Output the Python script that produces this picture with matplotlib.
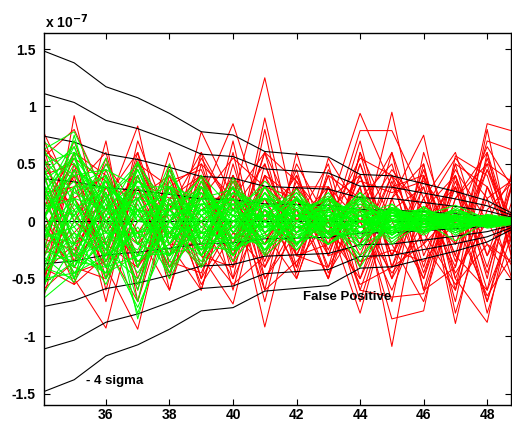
import numpy as np
import matplotlib
matplotlib.use('Agg')
import matplotlib.pyplot as plt

plt.rcParams['font.family'] = ['Liberation Sans', 'DejaVu Sans']
plt.rcParams['font.weight'] = 'bold'

# x positions (samples) and values in units of 1e-7
x_vals = list(range(34, 50))

# sigma of the distribution at every x
sigma = [0.372, 0.345, 0.293, 0.269, 0.235, 0.195, 0.188, 0.152,
         0.146, 0.140, 0.102, 0.099, 0.082, 0.065, 0.045, 0.010]
sigma_levels = [-4, -3, -2, -1, 0, 1, 2, 3, 4]

red_lines = [
    [0.80, 0.20, 0.40, -0.10, 0.30, 0.00, 0.20, 1.25, 0.00, 0.30, -0.20, 0.40, 0.10, -0.20, 0.50, 0.30],
    [-0.65, 0.92, -0.20, 0.50, 0.10, 0.40, -0.10, 0.30, -0.20, 0.10, 0.94, 0.30, -0.10, 0.40, -0.30, 0.20],
    [0.30, -0.50, -0.93, 0.20, -0.30, 0.78, 0.20, -0.20, 0.30, -0.10, 0.79, 0.79, 0.20, -0.40, 0.85, 0.77],
    [-0.20, 0.40, 0.10, 0.83, -0.40, 0.20, 0.85, 0.00, 0.40, -0.30, -0.20, 0.95, -0.30, 0.30, -0.60, 0.10],
    [0.50, 0.10, -0.40, -0.94, 0.20, -0.30, -0.72, 0.40, -0.10, 0.20, -0.60, -0.66, -0.63, 0.20, 0.60, -0.30],
    [-0.40, -0.55, 0.30, -0.30, 0.60, -0.20, 0.30, -0.92, 0.20, -0.50, 0.30, -1.09, 0.40, -0.89, 0.30, -0.40],
    [0.10, 0.60, -0.60, 0.40, -0.20, -0.60, 0.40, -0.30, 0.50, 0.00, -0.80, 0.20, 0.75, -0.50, -0.88, 0.40],
    [0.60, -0.20, 0.55, -0.50, 0.30, 0.50, -0.30, 0.60, -0.40, 0.55, 0.10, -0.85, -0.78, 0.57, 0.40, -0.50],
    [-0.70, 0.30, -0.30, 0.60, -0.60, 0.30, -0.40, 0.20, 0.10, -0.50, 0.60, -0.40, 0.40, -0.30, 0.70, 0.60],
    [0.20, -0.30, 0.70, -0.70, 0.40, -0.40, 0.60, -0.60, 0.60, -0.30, 0.40, -0.50, 0.50, -0.60, 0.30, -0.20],
    [0.00, 0.70, -0.10, 0.30, -0.50, 0.60, -0.50, 0.80, -0.50, 0.30, -0.40, 0.60, -0.60, 0.40, -0.40, 0.50],
    [-0.30, -0.10, 0.20, -0.60, 0.50, -0.50, 0.50, -0.40, 0.30, -0.40, 0.50, -0.30, 0.30, -0.70, 0.60, -0.60],
    [0.40, 0.50, -0.50, 0.70, 0.00, 0.40, -0.60, 0.50, -0.30, 0.40, -0.60, 0.20, -0.50, 0.30, -0.70, 0.20],
    [-0.50, 0.00, 0.50, 0.10, -0.40, -0.10, 0.40, -0.70, 0.40, -0.20, 0.30, -0.70, 0.60, -0.20, 0.45, -0.10],
    [0.70, -0.40, 0.10, -0.20, 0.10, 0.60, 0.10, 0.50, -0.20, 0.00, 0.20, 0.50, -0.40, 0.50, -0.50, 0.70],
    [-0.10, 0.40, -0.70, 0.50, -0.10, -0.40, 0.70, -0.50, 0.00, 0.50, -0.50, 0.10, 0.30, -0.50, 0.20, -0.70],
    [0.30, -0.30, 0.30, 0.20, 0.40, -0.30, -0.40, 0.90, -0.30, -0.20, 0.70, -0.40, -0.20, 0.10, -0.70, 0.30],
    [-0.60, 0.20, -0.20, -0.40, 0.00, 0.20, 0.20, -0.20, 0.30, 0.30, -0.30, 0.40, -0.60, -0.40, 0.55, -0.30],
    [0.55, 0.80, 0.20, 0.60, -0.20, 0.10, 0.30, -0.50, -0.10, 0.20, 0.40, -0.30, 0.20, 0.60, -0.30, 0.50],
    [-0.20, -0.40, -0.50, 0.00, 0.30, -0.50, 0.00, 0.20, -0.30, -0.40, 0.10, 0.60, -0.20, -0.60, 0.80, -0.50],
    [0.25, 0.30, 0.60, -0.40, 0.10, 0.30, -0.20, 0.40, 0.20, -0.10, -0.50, 0.30, 0.40, -0.30, -0.60, 0.60],
    [-0.45, -0.20, 0.10, 0.40, -0.30, 0.00, -0.50, 0.10, -0.40, 0.40, 0.20, -0.50, 0.00, 0.30, -0.20, -0.60],
    [0.75, 0.00, -0.20, -0.70, 0.20, 0.40, -0.10, -0.40, 0.10, -0.50, 0.60, 0.00, -0.50, 0.50, 0.30, -0.20],
    [-0.30, 0.60, 0.40, -0.10, -0.60, 0.50, 0.20, 0.60, 0.00, 0.20, -0.70, 0.20, 0.50, -0.80, 0.10, 0.40],
    [0.10, -0.55, -0.30, 0.50, 0.30, -0.60, 0.40, -0.10, -0.50, 0.30, 0.00, -0.60, 0.10, 0.40, -0.80, 0.10],
    [-0.55, 0.50, 0.00, 0.30, -0.30, 0.40, -0.30, 0.30, 0.20, -0.30, 0.50, -0.20, -0.70, 0.20, 0.50, -0.40],
    [0.45, -0.35, 0.45, -0.20, 0.45, -0.30, 0.35, -0.35, 0.35, -0.25, 0.40, -0.30, 0.45, -0.35, 0.45, -0.30],
    [-0.35, 0.45, -0.40, 0.30, -0.45, 0.35, -0.35, 0.40, -0.30, 0.30, -0.40, 0.35, -0.45, 0.35, -0.45, 0.35],
    [0.15, 0.20, -0.25, 0.55, -0.15, 0.55, 0.10, 0.20, -0.45, 0.45, 0.00, 0.45, 0.10, 0.55, 0.20, 0.40],
    [-0.15, -0.25, 0.25, -0.55, 0.15, -0.55, -0.10, -0.20, 0.45, -0.45, 0.00, -0.45, -0.10, -0.55, -0.20, -0.40],
    [0.65, 0.35, 0.00, 0.35, 0.20, 0.20, 0.55, 0.30, 0.05, 0.10, 0.35, 0.25, 0.35, 0.00, 0.65, 0.20],
    [-0.60, -0.35, 0.00, -0.35, -0.20, -0.20, -0.55, -0.30, -0.05, -0.10, -0.35, -0.25, -0.35, 0.00, -0.65, -0.20],
    [0.00, 0.55, 0.35, -0.40, 0.35, 0.45, -0.20, 0.60, 0.35, 0.00, 0.55, 0.40, -0.20, 0.45, 0.00, -0.50],
    [0.00, -0.45, -0.35, 0.40, -0.35, -0.45, 0.20, -0.60, -0.35, 0.00, -0.55, -0.40, 0.20, -0.45, 0.00, 0.50],
]

green_lines = [
    [0.62, 0.78, 0.20, 0.45, -0.10, 0.30, 0.05, 0.35, 0.10, 0.20, 0.05, 0.12, 0.02, 0.10, 0.03, 0.02],
    [-0.60, 0.10, -0.50, 0.20, -0.40, 0.15, -0.30, 0.10, -0.25, 0.05, -0.20, 0.05, -0.10, 0.02, -0.05, -0.01],
    [0.30, -0.50, 0.40, -0.85, 0.20, -0.30, 0.25, -0.20, 0.15, -0.10, 0.20, -0.05, 0.10, -0.08, 0.04, 0.00],
    [-0.20, 0.60, -0.30, 0.50, -0.20, 0.35, -0.15, 0.30, -0.10, 0.20, -0.15, 0.10, -0.05, 0.12, -0.03, 0.01],
    [0.45, 0.05, 0.55, -0.20, 0.45, -0.10, 0.38, -0.05, 0.25, -0.05, 0.22, 0.00, 0.12, -0.02, 0.06, 0.02],
    [-0.45, -0.10, -0.55, 0.10, -0.50, 0.05, -0.35, 0.00, -0.20, 0.05, -0.40, 0.02, -0.12, 0.05, -0.06, -0.02],
    [0.10, 0.35, -0.20, 0.30, 0.05, -0.25, 0.20, -0.28, 0.10, -0.15, 0.08, -0.18, 0.05, -0.12, 0.02, -0.01],
    [-0.05, -0.40, 0.25, -0.60, 0.30, 0.10, -0.20, 0.25, -0.15, 0.10, -0.10, 0.08, -0.08, 0.05, -0.04, 0.01],
    [0.55, 0.25, 0.10, 0.35, 0.15, 0.25, -0.05, 0.15, 0.05, 0.22, 0.00, 0.10, 0.05, 0.14, 0.02, 0.03],
    [-0.30, -0.53, -0.05, -0.45, 0.00, -0.35, 0.05, -0.20, -0.02, -0.15, 0.05, -0.20, 0.00, -0.17, 0.00, -0.03],
    [0.20, 0.70, 0.05, 0.52, 0.00, 0.40, 0.10, 0.20, 0.00, 0.15, 0.05, 0.08, 0.00, 0.06, 0.00, 0.01],
    [-0.65, -0.20, -0.45, -0.30, -0.10, -0.40, -0.05, -0.25, 0.05, -0.10, 0.00, -0.08, 0.03, -0.05, 0.01, 0.00],
    [0.00, 0.45, -0.35, 0.15, -0.45, 0.25, -0.25, 0.15, -0.20, 0.10, -0.15, 0.12, -0.08, 0.04, -0.04, 0.00],
    [0.35, -0.30, 0.20, -0.40, 0.35, -0.20, 0.30, -0.15, 0.22, -0.12, 0.18, -0.10, 0.13, -0.06, 0.05, 0.01],
    [-0.35, 0.30, -0.25, 0.40, -0.35, 0.20, -0.30, 0.15, -0.22, 0.18, -0.25, 0.15, -0.10, 0.06, -0.05, -0.01],
    [0.50, 0.60, 0.30, 0.10, 0.25, 0.05, 0.20, 0.00, 0.12, 0.02, 0.10, 0.00, 0.05, 0.00, 0.03, 0.00],
    [-0.50, -0.45, -0.30, -0.10, -0.30, -0.05, -0.22, 0.00, -0.12, -0.02, -0.10, 0.00, -0.06, 0.00, -0.03, 0.00],
    [0.15, 0.05, 0.35, 0.05, 0.40, 0.05, 0.25, 0.05, 0.18, 0.00, 0.25, 0.02, 0.10, 0.03, 0.05, 0.01],
    [-0.15, -0.05, -0.40, -0.05, -0.45, 0.00, -0.25, -0.05, -0.15, 0.00, -0.30, -0.02, -0.08, -0.02, -0.05, -0.01],
    [0.40, -0.15, 0.10, 0.25, -0.30, 0.30, 0.00, -0.15, 0.20, 0.00, -0.10, 0.10, 0.00, -0.05, 0.02, 0.00],
    [-0.40, 0.15, -0.10, -0.25, 0.30, -0.30, 0.00, 0.15, -0.20, 0.00, 0.10, -0.10, 0.00, 0.05, -0.02, 0.00],
    [0.25, 0.55, -0.10, 0.45, -0.15, 0.35, -0.10, 0.25, -0.05, 0.20, -0.05, 0.10, -0.03, 0.08, -0.02, 0.01],
    [-0.25, -0.35, 0.15, -0.55, 0.10, -0.30, 0.15, -0.20, 0.05, -0.15, 0.10, -0.12, 0.05, -0.10, 0.02, -0.01],
    [0.05, -0.20, 0.50, 0.00, 0.10, 0.38, -0.10, 0.05, 0.25, -0.10, 0.05, 0.15, -0.05, 0.00, 0.05, 0.00],
    [-0.10, 0.20, -0.50, 0.00, -0.05, -0.38, 0.10, 0.00, -0.25, 0.08, 0.00, -0.15, 0.05, 0.00, -0.05, 0.00],
    [0.60, 0.40, 0.45, 0.30, 0.30, 0.20, 0.28, 0.12, 0.18, 0.10, 0.12, 0.05, 0.08, 0.04, 0.04, 0.02],
    [-0.55, -0.35, -0.40, -0.30, -0.28, -0.22, -0.25, -0.12, -0.18, -0.10, -0.12, -0.06, -0.08, -0.05, -0.03, -0.02],
    [0.15, 0.65, 0.00, -0.80, 0.00, 0.20, -0.15, 0.10, -0.10, 0.15, -0.05, 0.05, 0.00, 0.08, 0.00, 0.00],
    [-0.05, 0.10, 0.30, -0.15, 0.50, -0.20, 0.10, 0.30, 0.00, 0.25, -0.10, 0.10, -0.05, 0.03, 0.00, 0.01],
    [0.30, -0.10, -0.30, 0.10, 0.25, -0.25, 0.35, -0.10, 0.05, -0.05, 0.25, -0.10, 0.08, -0.03, 0.03, 0.00],
    [-0.20, 0.45, 0.25, -0.35, -0.20, 0.30, -0.10, 0.20, 0.15, -0.20, 0.00, 0.08, 0.10, -0.05, 0.00, 0.01],
    [0.45, -0.40, 0.05, 0.20, -0.40, 0.10, 0.15, -0.25, 0.05, 0.12, -0.35, 0.05, 0.05, -0.08, 0.04, -0.01],
    [-0.45, 0.25, 0.40, -0.15, 0.00, -0.15, 0.30, 0.05, -0.15, 0.20, 0.00, -0.12, 0.10, 0.00, -0.03, 0.01],
    [0.10, -0.45, -0.15, 0.35, 0.10, 0.20, -0.25, 0.25, 0.00, -0.10, 0.15, 0.00, -0.10, 0.10, 0.00, 0.00],
    [0.65, 0.15, -0.25, -0.50, 0.15, 0.00, 0.10, -0.10, 0.20, 0.05, 0.00, -0.05, 0.06, 0.02, -0.02, 0.00],
    [-0.62, 0.30, 0.30, 0.05, -0.25, -0.10, -0.15, 0.10, -0.05, -0.20, 0.00, 0.05, -0.05, -0.03, 0.03, 0.00],
    [0.00, 0.50, 0.10, -0.30, 0.30, -0.10, -0.30, 0.05, 0.28, -0.05, 0.00, 0.07, -0.02, 0.05, -0.02, 0.00],
    [0.35, -0.25, -0.45, 0.25, 0.05, 0.15, 0.10, -0.30, -0.05, 0.00, 0.20, -0.05, 0.00, 0.00, 0.02, 0.00],
    [-0.30, 0.75, -0.20, 0.45, -0.20, 0.10, 0.20, 0.00, 0.10, -0.20, -0.05, 0.10, 0.05, -0.06, 0.00, 0.01],
    [0.20, -0.30, 0.20, -0.70, 0.45, -0.15, 0.00, 0.20, -0.10, 0.05, 0.10, -0.15, 0.00, 0.05, -0.03, 0.00],
    [0.50, -0.20, 0.35, 0.00, 0.20, -0.15, 0.25, 0.10, -0.10, 0.15, -0.05, 0.08, 0.00, 0.04, 0.00, 0.00],
    [-0.50, 0.20, -0.35, 0.05, -0.20, 0.15, -0.25, -0.10, 0.10, -0.15, 0.05, -0.08, 0.02, -0.04, 0.01, 0.00],
    [0.20, 0.40, 0.00, 0.20, 0.30, -0.05, 0.15, 0.20, 0.00, 0.10, 0.15, 0.00, 0.08, 0.03, 0.02, 0.01],
    [-0.20, -0.40, 0.00, -0.20, -0.30, 0.05, -0.15, -0.20, 0.00, -0.10, -0.15, 0.00, -0.08, -0.03, -0.02, -0.01],
    [0.70, 0.50, 0.15, -0.10, 0.00, 0.25, 0.05, -0.05, 0.10, 0.00, 0.05, 0.10, 0.02, -0.02, 0.02, 0.00],
    [-0.68, -0.45, -0.15, 0.10, 0.00, -0.25, -0.05, 0.05, -0.10, 0.00, -0.05, -0.10, -0.02, 0.02, -0.02, 0.00],
    [0.05, 0.30, 0.45, -0.20, -0.10, 0.20, 0.15, 0.00, -0.20, 0.12, 0.10, -0.05, 0.00, 0.08, 0.00, 0.00],
    [-0.05, -0.30, -0.45, 0.20, 0.10, -0.20, -0.15, 0.00, 0.20, -0.12, -0.10, 0.05, 0.00, -0.08, 0.00, 0.00],
    [0.40, 0.65, -0.05, 0.35, 0.10, 0.30, -0.05, 0.30, 0.05, 0.05, 0.20, 0.05, 0.10, 0.00, 0.03, 0.01],
    [-0.40, -0.50, 0.05, -0.35, -0.10, -0.30, 0.05, -0.25, -0.05, -0.05, -0.22, -0.05, -0.10, 0.00, -0.03, -0.01],
    [0.25, -0.05, 0.25, -0.30, 0.15, 0.00, 0.30, -0.05, 0.15, -0.05, 0.10, 0.05, 0.05, 0.00, 0.02, 0.00],
    [-0.25, 0.05, -0.25, 0.30, -0.15, 0.00, -0.30, 0.05, -0.15, 0.05, -0.10, -0.05, -0.05, 0.00, -0.02, 0.00],
    [0.00, 0.60, -0.40, 0.40, -0.30, 0.30, -0.20, 0.25, -0.20, 0.15, -0.20, 0.12, -0.06, 0.10, -0.03, 0.01],
    [0.00, -0.50, 0.40, -0.40, 0.30, -0.30, 0.20, -0.25, 0.20, -0.15, 0.20, -0.12, 0.06, -0.10, 0.03, -0.01],
    [0.55, 0.00, 0.30, 0.10, -0.10, 0.10, 0.00, 0.05, 0.00, 0.08, 0.00, 0.00, 0.03, 0.00, 0.01, 0.00],
    [-0.55, 0.00, -0.30, -0.10, 0.10, -0.10, 0.00, -0.05, 0.00, -0.08, 0.00, 0.00, -0.03, 0.00, -0.01, 0.00],
    [0.35, 0.55, 0.20, 0.50, 0.10, 0.15, 0.20, -0.10, 0.05, 0.20, -0.05, 0.12, -0.03, 0.10, 0.00, 0.02],
    [-0.35, -0.30, -0.20, -0.75, -0.10, -0.15, -0.20, 0.10, -0.05, -0.20, 0.05, -0.12, 0.03, -0.10, 0.00, -0.02],
    [0.10, 0.20, 0.10, 0.10, 0.05, 0.10, 0.05, 0.05, 0.05, 0.00, 0.05, 0.00, 0.02, 0.00, 0.01, 0.00],
    [-0.10, -0.20, -0.10, -0.10, -0.05, -0.10, -0.05, -0.05, -0.05, 0.00, -0.05, 0.00, -0.02, 0.00, -0.01, 0.00],
]

x_ticks = [36, 38, 40, 42, 44, 46, 48]
y_ticks = [-1.5, -1, -0.5, 0, 0.5, 1, 1.5]
y_ticklabels = ['-1.5', '-1', '-0.5', '0', '0.5', '1', '1.5']

fig = plt.figure(figsize=(5.12, 4.25), dpi=100)
ax = fig.add_axes([44 / 512, 1 - 405 / 425, 467 / 512, 372 / 425])

for line in red_lines:
    ax.plot(x_vals, line, color='#ff0000', lw=0.75)

sig = np.array(sigma)
for k in sigma_levels:
    ax.plot(x_vals, k * sig, color='black', lw=0.8)

for line in green_lines:
    ax.plot(x_vals, line, color='#00ff00', lw=0.75)

ax.set_xlim(34.05, 48.75)
ax.set_ylim(-1.6, 1.64)
ax.set_xticks(x_ticks)
ax.set_yticks(y_ticks)
ax.set_yticklabels(y_ticklabels)
ax.tick_params(direction='in', top=True, right=True, length=4, width=0.8,
               labelsize=10)
ax.tick_params(axis='x', pad=2)
ax.tick_params(axis='y', pad=6)
for lab in ax.get_xticklabels() + ax.get_yticklabels():
    lab.set_fontweight('bold')
for s in ax.spines.values():
    s.set_linewidth(1.0)

ax.text(35.37, -1.395, '- 4 sigma', fontsize=9.5, fontweight='bold', va='center')
ax.text(42.2, -0.66, 'False Positive', fontsize=9.5, fontweight='bold', va='center')
fig.text(45 / 512, 1 - 22 / 425, 'x 10$^{-7}$', fontsize=10, fontweight='bold', va='center')

fig.savefig('out.png', dpi=100)
